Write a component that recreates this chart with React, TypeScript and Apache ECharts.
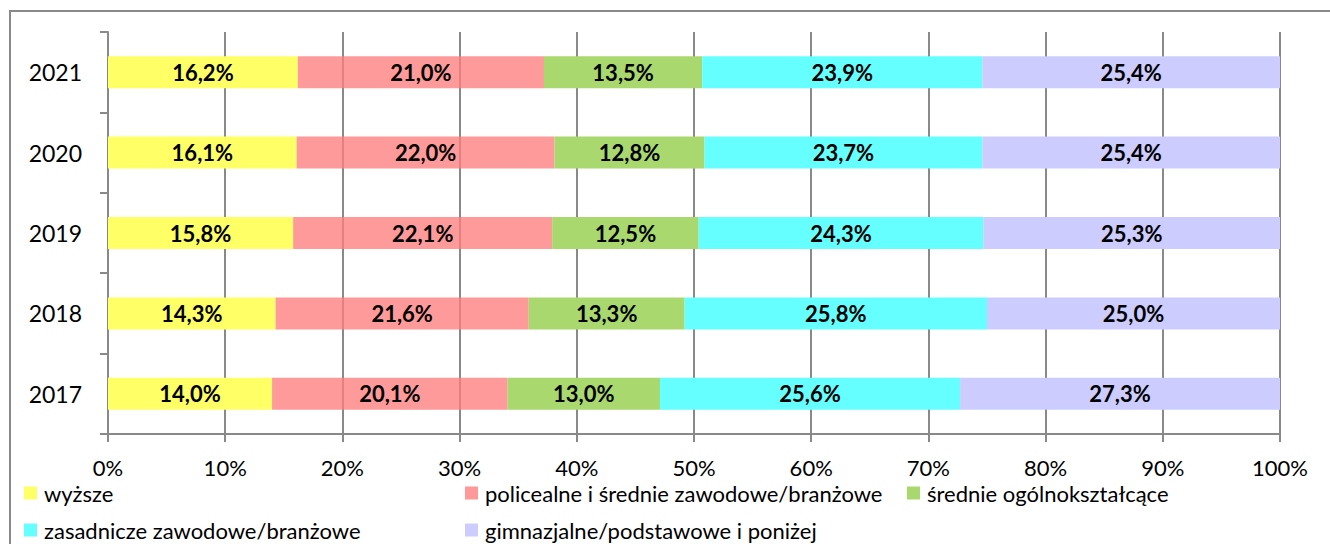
import React, { useEffect, useRef } from "react";
import * as echarts from "echarts";

const years = ["2017", "2018", "2019", "2020", "2021"];
const seriesNames = [
  "wyższe",
  "policealne i średnie zawodowe/branżowe",
  "średnie ogólnokształcące",
  "zasadnicze zawodowe/branżowe",
  "gimnazjalne/podstawowe i poniżej",
];
const wyzsze = [14.0, 14.3, 15.8, 16.1, 16.2];
const policealne = [20.1, 21.6, 22.1, 22.0, 21.0];
const srednieOgolne = [13.0, 13.3, 12.5, 12.8, 13.5];
const zasadnicze = [25.6, 25.8, 24.3, 23.7, 23.9];
const gimnazjalne = [27.3, 25.0, 25.3, 25.4, 25.4];
const xTicks = [0, 10, 20, 30, 40, 50, 60, 70, 80, 90, 100];

const seriesValues = [wyzsze, policealne, srednieOgolne, zasadnicze, gimnazjalne];
const colors = ["#FFFF66", "rgba(255,125,125,0.78)", "#A9D86E", "#66FFFF", "#CCCCFF"];
const legendColors = ["#FFFF66", "#FF9999", "#A9D86E", "#66FFFF", "#CCCCFF"];
const legendPos = [
  [24, 482],
  [465, 482],
  [907, 482],
  [24, 519],
  [465, 519],
];

const FONT = "Lato";

export default function App() {
  const ref = useRef<HTMLDivElement>(null);
  useEffect(() => {
    if (!ref.current) return;
    const chart = echarts.init(ref.current, undefined, { renderer: "svg" });
    chart.setOption({
      animation: false,
      textStyle: { fontFamily: FONT },
      graphic: [
        {
          type: "rect",
          shape: { x: 10, y: 11, width: 1340, height: 600 },
          style: { fill: "none", stroke: "#898989", lineWidth: 2 },
          silent: true,
        },
      ],
      legend: seriesNames.map((n, i) => ({
        data: [{ name: n, itemStyle: { color: legendColors[i] } }],
        left: legendPos[i][0],
        top: legendPos[i][1],
        padding: 0,
        itemWidth: 13,
        itemHeight: 13,
        itemGap: 0,
        icon: "rect",
        textStyle: { fontFamily: FONT, fontSize: 22, color: "#000", lineHeight: 22, padding: [0, 0, 0, 2] },
        selectedMode: false,
      })),
      grid: { left: 108, right: 50, top: 32, bottom: 110, containLabel: false },
      xAxis: {
        type: "value",
        min: 0,
        max: 100,
        interval: 10,
        axisLine: { show: true, lineStyle: { color: "#898989", width: 2 } },
        axisTick: { show: true, length: 8, lineStyle: { color: "#898989", width: 2 } },
        splitLine: { show: true, lineStyle: { color: "#898989", width: 2 } },
        axisLabel: {
          formatter: (v: number) => (xTicks.includes(v) ? v + "%" : ""),
          fontFamily: FONT,
          fontSize: 22,
          color: "#000",
          margin: 22,
        },
      },
      yAxis: {
        type: "category",
        data: years,
        axisLine: { show: true, lineStyle: { color: "#898989", width: 2 } },
        axisTick: { show: true, length: 8, lineStyle: { color: "#898989", width: 2 } },
        axisLabel: { fontFamily: FONT, fontSize: 23, color: "#000", margin: 26 },
      },
      series: seriesNames.map((n, i) => ({
        name: n,
        type: "bar",
        stack: "total",
        barWidth: 32,
        data: seriesValues[i],
        itemStyle: { color: colors[i] },
        label: {
          show: true,
          position: "inside",
          fontFamily: FONT,
          fontWeight: "bold",
          fontSize: 22,
          color: "#000",
          formatter: (p: any) => p.value.toFixed(1).replace(".", ",") + "%",
        },
      })),
    });
    return () => chart.dispose();
  }, []);
  return <div ref={ref} style={{ width: 1330, height: 544, position: "absolute", left: 0, top: 0 }} />;
}
